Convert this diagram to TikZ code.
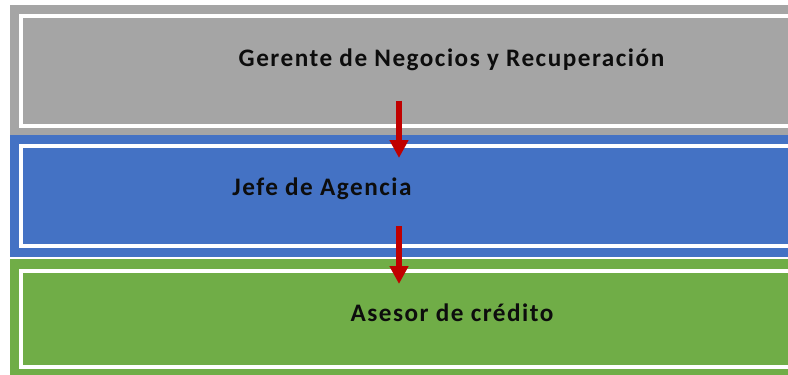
\documentclass[tikz,border=0pt]{standalone}
\usepackage{fontspec}
\setmainfont{Carlito}[LetterSpace=6]
\usetikzlibrary{arrows.meta}
\definecolor{cgray}{HTML}{A5A5A5}
\definecolor{cblue}{HTML}{4472C4}
\definecolor{cgreen}{HTML}{70AD47}
\definecolor{cred}{HTML}{C00000}
\definecolor{ctext}{HTML}{0D0D0D}
\tikzset{
  lbl/.style={font=\fontsize{25.2}{28}\selectfont\bfseries, text=ctext, inner sep=0pt, anchor=base},
  inframe/.style={draw=white, line width=4pt},
  redarrow/.style={draw=cred, line width=6pt, -{Triangle[width=18pt,length=18pt]}, shorten >=0pt}
}
\begin{document}
\begin{tikzpicture}[x=1pt,y=-1pt]
\useasboundingbox (0,0) rectangle (788,375);
\clip (0,0) rectangle (788,375);
% bands
\fill[cgray] (10,5) rectangle (800,134.5);
\fill[cblue] (10,134.5) rectangle (800,256.7);
\fill[cgreen] (10,259.3) rectangle (800,380);
% inner frames
\draw[inframe] (20.5,15.8) rectangle (810,126);
\draw[inframe] (20.5,145.9) rectangle (810,246.2);
\draw[inframe] (20.5,270.9) rectangle (810,367);
% labels
\node[lbl] (g) at (451.5,66.5) {Gerente de Negocios y Recuperación};
\node[lbl] (j) at (322,195) {Jefe de Agencia};
\node[lbl] (a) at (452,321.5) {Asesor de crédito};
% arrows
\coordinate (a1s) at (399,100.7);
\coordinate (a1e) at (399,158);
\coordinate (a2s) at (399,226);
\coordinate (a2e) at (399,284);
\draw[redarrow] (a1s) -- (a1e);
\draw[redarrow] (a2s) -- (a2e);
\end{tikzpicture}
\end{document}
